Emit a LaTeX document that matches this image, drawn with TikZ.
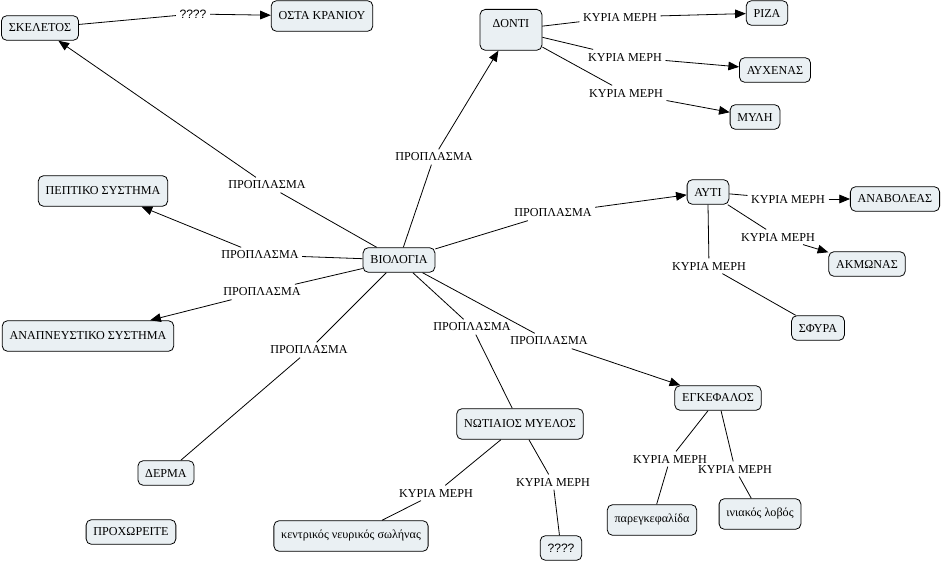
\documentclass[tikz,border=0pt]{standalone}
\usepackage{fontspec}
\setmainfont{Liberation Serif}
\newfontfamily\qmarkfont{Liberation Sans}
\usetikzlibrary{arrows.meta}
\definecolor{conceptfill}{HTML}{EAF0F3}
\tikzset{
	conceptnode/.style={
			draw=black,
			fill=conceptfill,
			rounded corners=4pt,
			line width=0.6pt,
			minimum height=18.5pt,
			inner xsep=5.5pt,
			font=\fontsize{9.1}{11}\selectfont
		},
	tallnode/.style={
			conceptnode,
			minimum height=23pt
		},
	linknode/.style={
			inner sep=2.5pt,
			font=\fontsize{9.1}{11}\selectfont
		},
	plainlink/.style={
			line width=0.6pt
		},
	arrowlink/.style={
			line width=0.6pt,
			-{Triangle[length=8pt,width=6.5pt]}
		}
}

\begin{document}
\begin{tikzpicture}[x=0.75pt, y=-0.75pt]
\useasboundingbox (0,0) rectangle (942,563);

\node[conceptnode] (n1) at (399,260) { ΒΙΟΛΟΓΙΑ };
\node[conceptnode] (n2) at (40,28) { ΣΚΕΛΕΤΟΣ };
\node[tallnode] (n3) at (322,16) { ΟΣΤΑ ΚΡΑΝΙΟΥ };
\node[conceptnode, anchor=north, minimum width=46.5pt, text height=10pt, text depth=14pt] (n4) at (511,9) { ΔΟΝΤΙ };
\node[conceptnode] (n5) at (767,13) { ΡΙΖΑ };
\node[conceptnode] (n6) at (775,70) { ΑΥΧΕΝΑΣ };
\node[conceptnode] (n7) at (755,117) { ΜΥΛΗ };
\node[tallnode] (n8) at (103,191) { ΠΕΠΤΙΚΟ ΣΥΣΤΗΜΑ };
\node[tallnode] (n9) at (88,336) { ΑΝΑΠΝΕΥΣΤΙΚΟ ΣΥΣΤΗΜΑ };
\node[conceptnode] (n10) at (708,192) { ΑΥΤΙ };
\node[conceptnode] (n11) at (895,199) { ΑΝΑΒΟΛΕΑΣ };
\node[conceptnode] (n12) at (867,264) { ΑΚΜΩΝΑΣ };
\node[conceptnode] (n13) at (818,328) { ΣΦΥΡΑ };
\node[conceptnode] (n14) at (718,398) { ΕΓΚΕΦΑΛΟΣ };
\node[tallnode] (n15) at (520,424) { ΝΩΤΙΑΙΟΣ ΜΥΕΛΟΣ };
\node[conceptnode] (n16) at (166,473) { ΔΕΡΜΑ };
\node[conceptnode] (n17) at (131,532) { ΠΡΟΧΩΡΕΙΤΕ };
\node[tallnode] (n18) at (351,536) { κεντρικός νευρικός σωλήνας };
\node[conceptnode] (n19) at (561,548) { \qmarkfont ???? };
\node[tallnode] (n20) at (652,520) { παρεγκεφαλίδα };
\node[tallnode] (n21) at (760,514) { ινιακός λοβός };

% link words
\node[linknode] (l1) at (267,185) { ΠΡΟΠΛΑΣΜΑ };
\node[linknode] (l2) at (193,14) { \qmarkfont ???? };
\node[linknode] (l3) at (434,157) { ΠΡΟΠΛΑΣΜΑ };
\node[linknode] (l4) at (620,17) { ΚΥΡΙΑ ΜΕΡΗ };
\node[linknode] (l5) at (625,57) { ΚΥΡΙΑ ΜΕΡΗ };
\node[linknode] (l6) at (626,93) { ΚΥΡΙΑ ΜΕΡΗ };
\node[linknode] (l7) at (260,255) { ΠΡΟΠΛΑΣΜΑ };
\node[linknode] (l8) at (262,292) { ΠΡΟΠΛΑΣΜΑ };
\node[linknode] (l9) at (309,350) { ΠΡΟΠΛΑΣΜΑ };
\node[linknode] (l10) at (472,327) { ΠΡΟΠΛΑΣΜΑ };
\node[linknode] (l11) at (549,341) { ΠΡΟΠΛΑΣΜΑ };
\node[linknode] (l12) at (553,213) { ΠΡΟΠΛΑΣΜΑ };
\node[linknode] (l13) at (788,199) { ΚΥΡΙΑ ΜΕΡΗ };
\node[linknode] (l14) at (778,237) { ΚΥΡΙΑ ΜΕΡΗ };
\node[linknode] (l15) at (709,266) { ΚΥΡΙΑ ΜΕΡΗ };
\node[linknode] (l16) at (436,493) { ΚΥΡΙΑ ΜΕΡΗ };
\node[linknode] (l17) at (553,482) { ΚΥΡΙΑ ΜΕΡΗ };
\node[linknode] (l18) at (670,459) { ΚΥΡΙΑ ΜΕΡΗ };
\node[linknode] (l19) at (735,469) { ΚΥΡΙΑ ΜΕΡΗ };

% connectors
\draw[plainlink] (n1) -- (l1);
\draw[arrowlink] (l1) -- (n2);
\draw[plainlink] (n2) -- (l2);
\draw[arrowlink] (l2) -- (n3);
\draw[plainlink] (n1) -- (l3);
\draw[arrowlink] (l3) -- (n4);
\draw[plainlink] (n4) -- (l4);
\draw[arrowlink] (l4) -- (n5);
\draw[plainlink] (n4) -- (l5);
\draw[arrowlink] (l5) -- (n6);
\draw[plainlink] (n4) -- (l6);
\draw[arrowlink] (l6) -- (n7);
\draw[plainlink] (n1) -- (l7);
\draw[arrowlink] (l7) -- (n8);
\draw[plainlink] (n1) -- (l8);
\draw[arrowlink] (l8) -- (n9);
\draw[plainlink] (n1) -- (l9);
\draw[plainlink] (l9) -- (n16);
\draw[plainlink] (n1) -- (l10);
\draw[plainlink] (l10) -- (n15);
\draw[plainlink] (n1) -- (l11);
\draw[arrowlink] (l11) -- (n14);
\draw[plainlink] (n1) -- (l12);
\draw[arrowlink] (l12) -- (n10);
\draw[plainlink] (n10) -- (l13);
\draw[arrowlink] (l13) -- (n11);
\draw[plainlink] (n10) -- (l14);
\draw[arrowlink] (l14) -- (n12);
\draw[plainlink] (n10.south) -- (l15);
\draw[plainlink] (l15) -- (n13);
\draw[plainlink] (n15) -- (l16);
\draw[plainlink] (l16) -- (n18);
\draw[plainlink] (n15) -- (l17);
\draw[plainlink] (l17) -- (n19);
\draw[plainlink] (n14) -- (l18);
\draw[plainlink] (l18) -- (n20);
\draw[plainlink] (n14) -- (l19);
\draw[plainlink] (l19) -- (n21);
\end{tikzpicture}
\end{document}
